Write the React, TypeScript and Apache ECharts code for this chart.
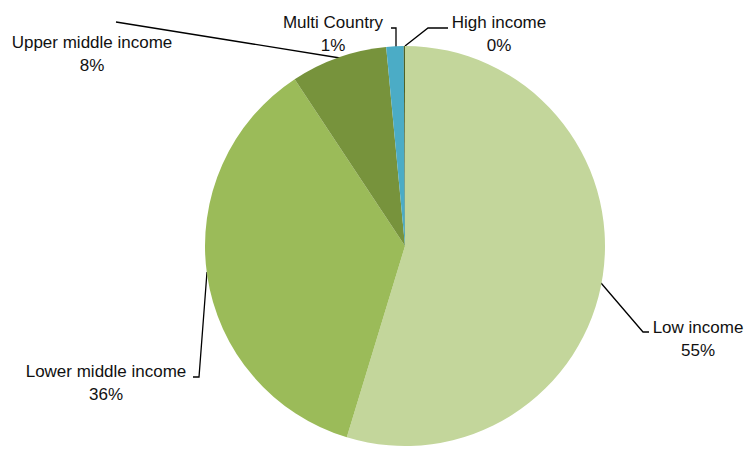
import React, { useEffect, useRef } from "react";
import * as echarts from "echarts";

const categories = ["Low income", "Lower middle income", "Upper middle income", "Multi Country", "High income"];
const shares = [54.7, 36.0, 7.8, 1.4, 0.1];
const colors = ["#C3D69B", "#9BBB59", "#77933C", "#4BACC6", "#4F6228"];

// label block centres and leader-line polylines (layout only)
const labelCenters: number[][] = [
  [698, 339],
  [106, 383],
  [92, 54],
  [333, 34],
  [499, 34],
];
const leaderLines: number[][][] = [
  [[601, 283], [643, 332], [649, 332]],
  [[207, 272], [199, 377], [193, 377]],
  [[340, 58], [228, 40], [116, 22]],
  [[396, 47], [396, 28], [391, 28]],
  [[405, 46], [428, 28], [448, 28]],
];

export default function App() {
  const ref = useRef<HTMLDivElement>(null);
  useEffect(() => {
    const chart = echarts.init(ref.current!, undefined, { renderer: "svg" });
    chart.setOption({
      animation: false,
      backgroundColor: "#ffffff",
      series: [
        {
          type: "pie",
          center: [405, 246],
          radius: 200,
          startAngle: 90,
          clockwise: true,
          percentPrecision: 0,
          avoidLabelOverlap: false,
          data: categories.map((name, i) => ({
            name,
            value: shares[i],
            itemStyle: { color: colors[i] },
          })),
          itemStyle: { borderWidth: 0 },
          label: {
            show: true,
            position: "outside",
            formatter: "{b}\n{d}%",
            fontFamily: "Liberation Sans",
            fontSize: 17,
            lineHeight: 23,
            color: "#111",
            align: "center",
          },
          labelLine: {
            show: true,
            lineStyle: { color: "#000", width: 1.3 },
          },
          labelLayout: (params: any) => {
            const i = params.dataIndex;
            return {
              x: labelCenters[i][0],
              y: labelCenters[i][1],
              align: "center",
              verticalAlign: "middle",
              labelLinePoints: leaderLines[i],
            };
          },
        },
      ],
    });
    return () => chart.dispose();
  }, []);
  return (
    <div
      ref={ref}
      style={{ position: "fixed", left: 0, top: 0, width: 746, height: 450 }}
    />
  );
}
